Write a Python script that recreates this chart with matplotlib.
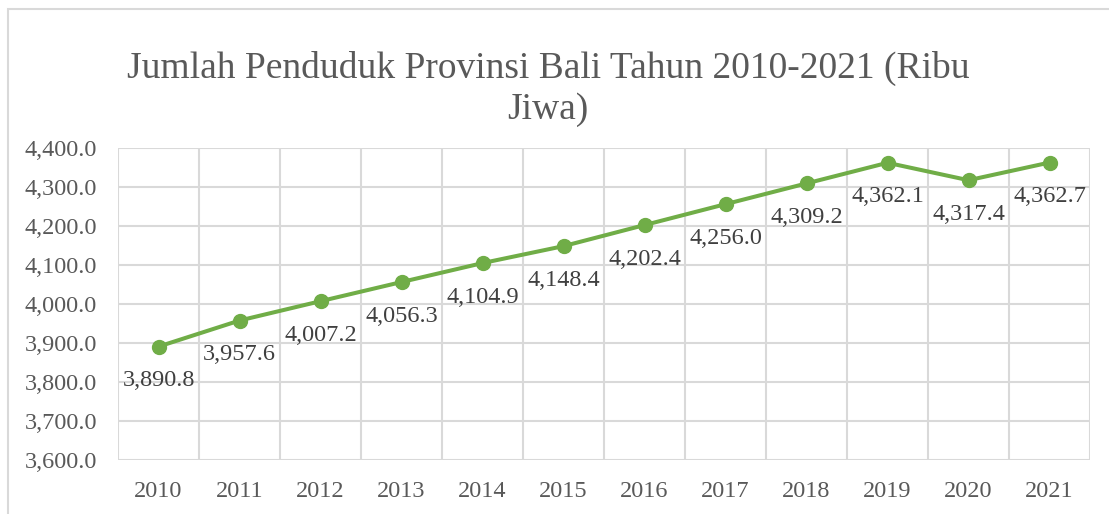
import matplotlib
matplotlib.use("Agg")
import matplotlib.pyplot as plt
from matplotlib.patches import Rectangle

years = ["2010", "2011", "2012", "2013", "2014", "2015", "2016", "2017", "2018", "2019", "2020", "2021"]
population = [3890.8, 3957.6, 4007.2, 4056.3, 4104.9, 4148.4, 4202.4, 4256.0, 4309.2, 4362.1, 4317.4, 4362.7]
yticks = [3600, 3700, 3800, 3900, 4000, 4100, 4200, 4300, 4400]
title = "Jumlah Penduduk Provinsi Bali Tahun 2010-2021 (Ribu\nJiwa)"

plt.rcParams['font.family'] = ['Liberation Serif', 'DejaVu Serif']

fig = plt.figure(figsize=(11.09, 5.14), dpi=100)
fig.patch.set_facecolor("white")
fig.patches.append(Rectangle((8/1109, -0.1), 1.2, 1 - 9/514 + 0.1, transform=fig.transFigure,
                             fill=False, edgecolor="#d9d9d9", linewidth=1.5))

ax = fig.add_axes([118/1109, 1 - 460/514, (1090 - 118)/1109, (460 - 148)/514])
x = list(range(len(years)))
ax.plot(x, population, color="#70AD47", linewidth=2.9, marker="o", markersize=10, zorder=3)
for xi, v in zip(x, population):
    ax.annotate(f"{v:,.1f}", (xi, v), xytext=(0, -17), textcoords="offset points",
                ha="center", va="top", fontsize=17.5, color="#404040", zorder=4)

ax.set_xlim(-0.5, len(years) - 0.5)
ax.set_ylim(3600, 4400)
ax.set_yticks(yticks)
ax.set_yticklabels([f"{t:,.1f}" for t in yticks])
ax.set_xticks(x)
ax.set_xticklabels(years)
ax.set_xticks([i + 0.5 for i in range(-1, len(years))], minor=True)
ax.grid(True, which="minor", axis="x", color="#d9d9d9", linewidth=1.5)
ax.grid(True, which="major", axis="y", color="#d9d9d9", linewidth=1.5)
ax.tick_params(axis="both", which="both", length=0, labelsize=17.5, labelcolor="#595959")
ax.tick_params(axis="x", pad=15)
ax.tick_params(axis="y", pad=15)
for s in ax.spines.values():
    s.set_visible(False)
ax.set_axisbelow(True)

fig.text(548/1109, 1 - 89/514, title, ha="center", va="center", fontsize=27,
         color="#595959", linespacing=1.25)

fig.savefig("out.png", dpi=100)
